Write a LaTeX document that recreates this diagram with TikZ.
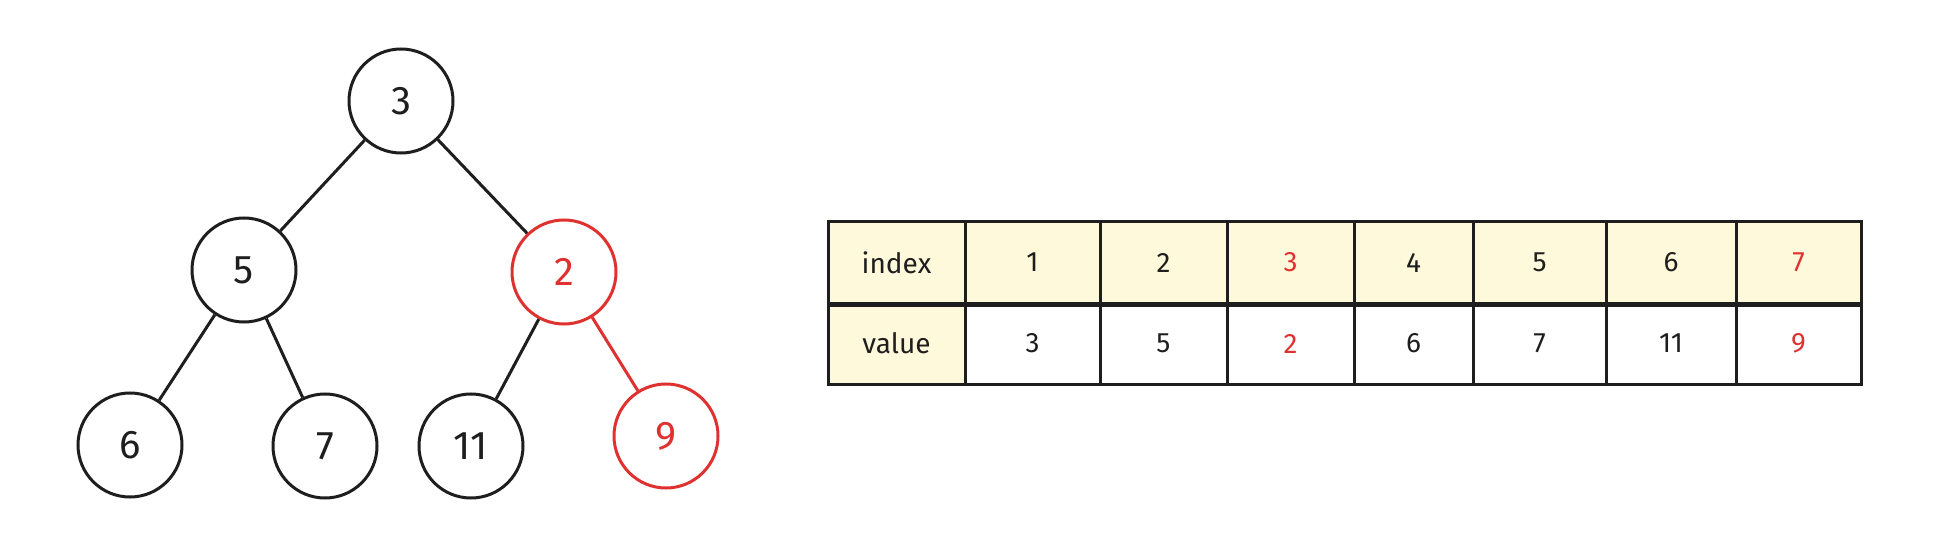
\documentclass[tikz,border=0pt]{standalone}
\usepackage{fontspec}
\setmainfont{Fira Sans}
\definecolor{ink}{HTML}{1E1E1E}
\definecolor{hot}{HTML}{E03131}
\definecolor{cream}{HTML}{FFF9DB}
\tikzset{
  heapnode/.style={circle, draw=ink, line width=3pt, minimum size=104pt, inner sep=0pt,
    font=\fontsize{40}{40}\selectfont, text=ink},
  hotnode/.style={heapnode, draw=hot, text=hot},
  link/.style={draw=ink, line width=3pt},
  cell/.style={rectangle, draw=ink, line width=3pt, minimum height=81pt, inner sep=0pt,
    font=\fontsize{28}{28}\selectfont},
}
\begin{document}
\begin{tikzpicture}[x=1pt, y=-1pt]
\useasboundingbox[fill=white] (0,0) rectangle (1944,548);

\node[heapnode] (n3) at (401,101) {3};
\node[heapnode] (n5) at (244,270) {5};
\node[hotnode]  (n2) at (564,272) {2};
\node[heapnode] (n6) at (130,445) {6};
\node[heapnode] (n7) at (325,446) {7};
\node[heapnode] (n11) at (471,446) {11};
\node[hotnode]  (n9) at (666,436) {9};

\draw[link] (n3) -- (n5);
\draw[link] (n3) -- (n2);
\draw[link] (n5) -- (n6);
\draw[link] (n5) -- (n7);
\draw[link] (n2) -- (n11);
\draw[link, draw=hot] (n2) -- (n9);

\foreach \a/\b/\top/\bot/\tc/\bf [count=\i] in
  {828/965/index/value/ink/cream, 965/1100/1/3/ink/white, 1100/1227/2/5/ink/white,
   1227/1354/3/2/hot/white, 1354/1473/4/6/ink/white, 1473/1606/5/7/ink/white,
   1606/1736/6/11/ink/white, 1736/1861/7/9/hot/white}
{
  \node[cell, fill=cream, text=\tc, minimum width=\b-\a] (top\i) at ({(\a+\b)/2},262.5) {\top};
  \node[cell, fill=\bf, text=\tc, minimum width=\b-\a] (bot\i) at ({(\a+\b)/2},343.5) {\bot};
}
\draw[ink, line width=4.5pt] (top1.south west) -- (top8.south east);
\end{tikzpicture}
\end{document}
